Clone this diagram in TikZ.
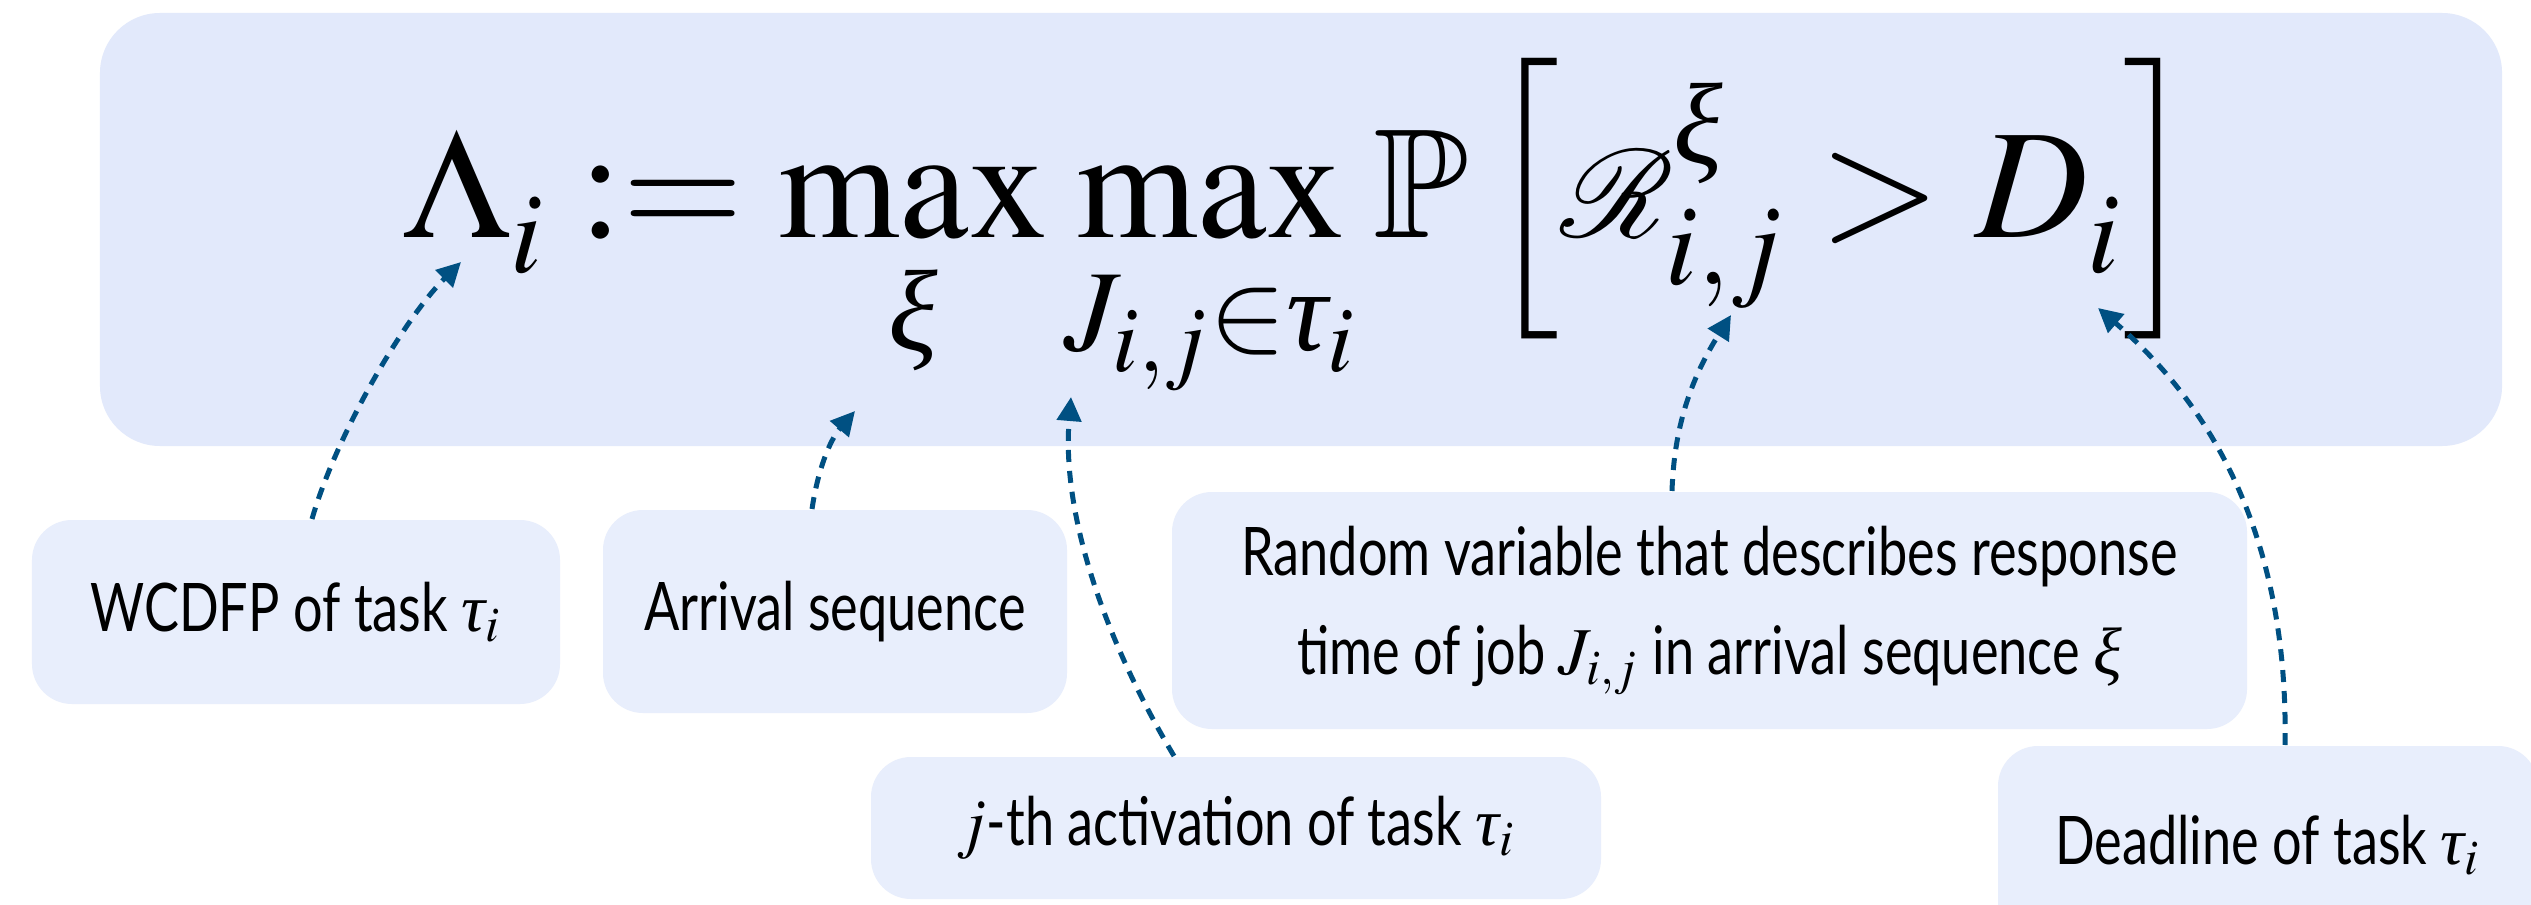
\documentclass[tikz,border=0pt]{standalone}
\usepackage{mathptmx}
\usepackage{amsmath}
\usepackage{amssymb}
\usepackage{mathrsfs}
\usepackage[no-math]{fontspec}
\newfontfamily\boxfont[FakeStretch=0.78]{Lato}
\newfontfamily\greekfont{Liberation Serif}
\newcommand{\vxi}{\text{\greekfont\itshape ξ}}
\newcommand{\vtau}{\text{\greekfont\itshape τ}}
\newcommand{\idxij}{i{,}j}
\usetikzlibrary{arrows.meta,calc}
\definecolor{bigfill}{HTML}{E2E9FB}
\definecolor{smallfill}{HTML}{E8EEFC}
\definecolor{arrowblue}{RGB}{0,80,130}
\tikzset{
  infobox/.style={fill=smallfill, rounded corners=8pt, inner sep=0pt, align=center,
    font=\boxfont\fontsize{13.4}{19.8}\selectfont},
  pointer/.style={draw=arrowblue, line width=1pt, dash pattern=on 2.4pt off 1.8pt,
    -{Triangle[length=4.8pt,width=4.8pt]}},
}
\newcommand{\dropscripts}{%
  \fontdimen16\textfont2=\dimexpr\fontdimen16\textfont2+2.2pt\relax
  \fontdimen17\textfont2=\dimexpr\fontdimen17\textfont2+2.6pt\relax}
\newcommand{\lowlim}[1]{\raisebox{-3.4pt}{$\scriptstyle #1$}}
\begin{document}
\begin{tikzpicture}[x=0.2pt,y=-0.2pt]
\useasboundingbox (0,0) rectangle (2531,905);
\clip (0,0) rectangle (2531,905);
\fill[white] (0,0) rectangle (2531,905);
% main formula box
\node[fill=bigfill, rounded corners=12pt, minimum width=480.4pt, minimum height=86.6pt, inner sep=0pt] (main) at (1301,229.5) {};
\node[anchor=base west, inner sep=0pt, font=\fontsize{31.2}{37}\selectfont] (formula) at (402,238)
  {$\displaystyle \dropscripts \Lambda_i := \max_{\lowlim{\vxi}} \max_{\lowlim{J_{\idxij}\in\vtau_i}} \mathbb{P}\left[\mathscr{R}^{\vxi}_{\idxij} > D_i\right]$};
% targets
\coordinate (tLambda) at (461,262);
\coordinate (tXi) at (855,411);
\coordinate (tJob) at (1071,397);
\coordinate (tResp) at (1731,315);
\coordinate (tDead) at (2098,308);
% boxes
\node[infobox, minimum width=105.6pt, minimum height=36.8pt] (wcdfp) at (296,612) {WCDFP of task $\vtau_i$};
\node[infobox, minimum width=92.8pt, minimum height=40.6pt] (arrival) at (835,611.5) {Arrival sequence};
\node[infobox, minimum width=146pt, minimum height=28.4pt] (jth) at (1236,828) {$j$-th activation of task $\vtau_i$};
\node[infobox, minimum width=215pt, minimum height=47.4pt] (resp) at (1709.5,610.5) {Random variable that describes response\\time of job $J_{\idxij}$ in arrival sequence $\vxi$};
\node[infobox, minimum width=108pt, minimum height=39.6pt] (dead) at (2268,845) {Deadline of task $\vtau_i$};
% connectors
\draw[pointer] ($(wcdfp.north)+(16,0)$) .. controls +(23,-80) and +(-60,60) .. (tLambda);
\draw[pointer] ($(arrival.north)+(-23,0)$) .. controls +(6,-40) and +(-25,29) .. (tXi);
\draw[pointer] ($(jth.north)+(-62,0)$) .. controls +(-64,-107) and +(-10,123) .. (tJob);
\draw[pointer] ($(resp.north)+(-37.5,0)$) .. controls +(2,-62) and +(-41,65) .. (tResp);
\draw[pointer] ($(dead.north)+(17,0)$) .. controls +(3,-165) and +(142,122) .. (tDead);
\end{tikzpicture}
\end{document}
